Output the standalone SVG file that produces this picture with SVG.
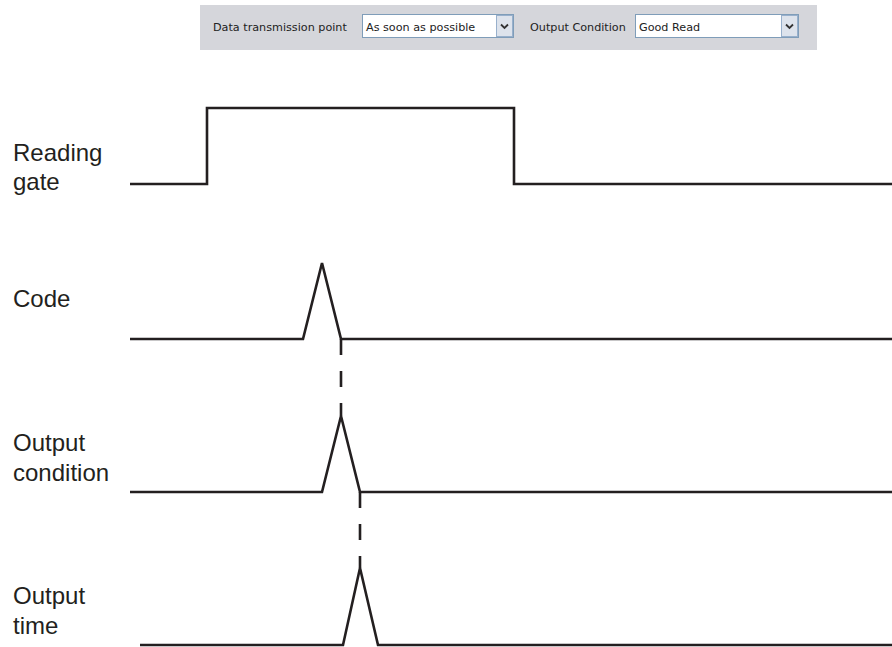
<svg xmlns="http://www.w3.org/2000/svg" width="892" height="647" viewBox="0 0 892 647">
<style>
.lbl{font-family:"Liberation Sans",Arial,sans-serif;font-size:24px;fill:#231f20}
.ui{font-family:"DejaVu Sans",Tahoma,sans-serif;font-size:11.2px;fill:#222}
.sig{fill:none;stroke:#231f20;stroke-width:2.6;stroke-linejoin:miter}
.dash{fill:none;stroke:#231f20;stroke-width:2.6;stroke-dasharray:16,16}
.box{fill:#fff;stroke:#7f9db9;stroke-width:1}
.btn{fill:#dde3ec;stroke:#98b0cc;stroke-width:1}
.chev{fill:none;stroke:#333;stroke-width:1.8}
</style>
<rect width="892" height="647" fill="#fff"/>
<g id="toolbar">
<rect x="200" y="5" width="617" height="45" fill="#d5d6db"/>
<text class="ui" x="213" y="31">Data transmission point</text>
<rect class="box" x="362.5" y="14.5" width="151" height="23"/>
<text class="ui" x="366" y="31">As soon as possible</text>
<rect class="btn" x="496.5" y="15.5" width="16" height="21"/>
<path class="chev" d="M501 24.5 l3.5 3.5 l3.5 -3.5"/>
<text class="ui" x="530" y="31">Output Condition</text>
<rect class="box" x="635.5" y="14.5" width="163" height="23"/>
<text class="ui" x="639" y="31">Good Read</text>
<rect class="btn" x="781.5" y="15.5" width="16" height="21"/>
<path class="chev" d="M786 24.5 l3.5 3.5 l3.5 -3.5"/>
</g>
<g id="reading-gate">
<text class="lbl" x="13" y="161">Reading</text>
<text class="lbl" x="13" y="190">gate</text>
<polyline class="sig" points="130,184 207,184 207,108 514,108 514,184 892,184"/>
</g>
<g id="code">
<text class="lbl" x="13" y="307">Code</text>
<polyline class="sig" points="130,339 303,339 322,263 341,339 892,339"/>
</g>
<g id="output-condition">
<text class="lbl" x="13" y="451">Output</text>
<text class="lbl" x="13" y="481">condition</text>
<polyline class="sig" points="130,492 322,492 341,416 360,492 892,492"/>
</g>
<g id="output-time">
<text class="lbl" x="13" y="604">Output</text>
<text class="lbl" x="13" y="634">time</text>
<polyline class="sig" points="140,645 343,645 360,568 378,645 892,645"/>
</g>
<g id="connectors">
<line class="dash" x1="341" y1="339" x2="341" y2="416"/>
<line class="dash" x1="360" y1="492" x2="360" y2="568"/>
</g>
</svg>
